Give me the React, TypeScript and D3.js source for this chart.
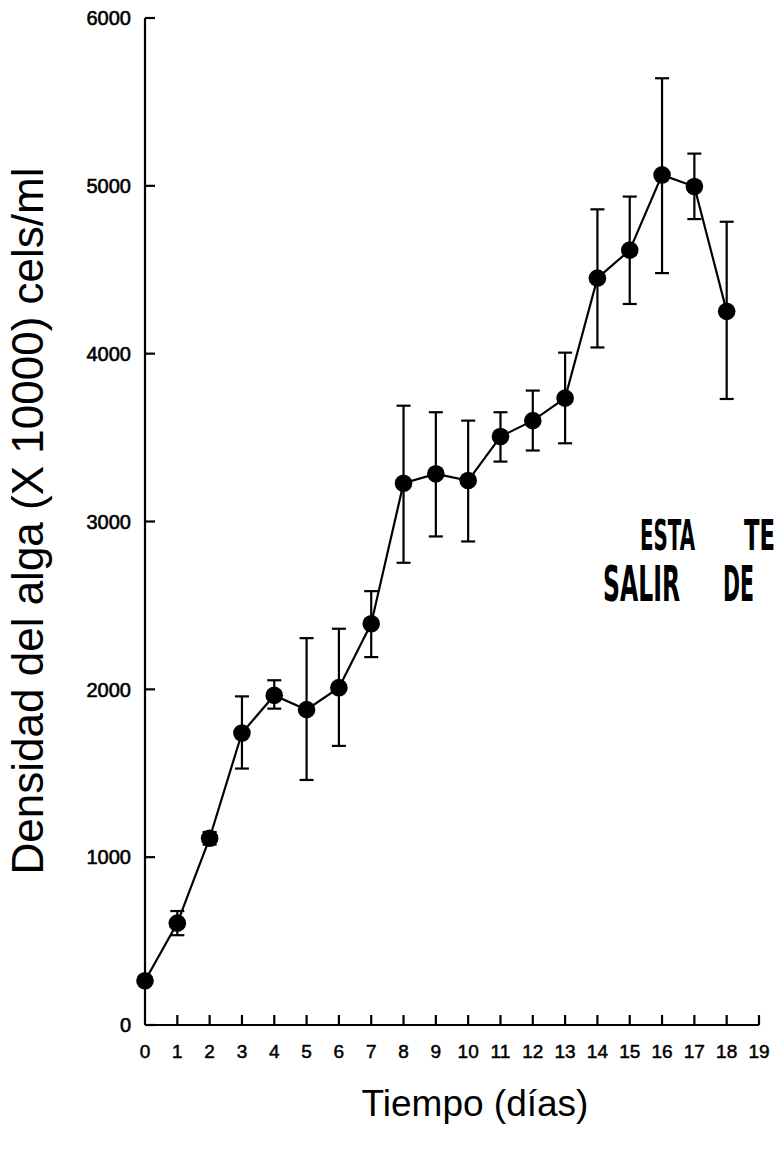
import React from "react";
import * as d3 from "d3";

const days = [0, 1, 2, 3, 4, 5, 6, 7, 8, 9, 10, 11, 12, 13, 14, 15, 16, 17, 18];
const density = [264, 607, 1113, 1740, 1964, 1879, 2010, 2391, 3228, 3284, 3244, 3506, 3601, 3735, 4450, 4617, 5065, 4996, 4252];
const errLow = [264, 535, 1075, 1528, 1885, 1460, 1663, 2192, 2754, 2911, 2881, 3357, 3423, 3466, 4037, 4296, 4480, 4802, 3730];
const errHigh = [264, 679, 1150, 1958, 2054, 2305, 2361, 2585, 3690, 3651, 3601, 3651, 3780, 4006, 4860, 4936, 5641, 5192, 4786];
const xTicks = [0, 1, 2, 3, 4, 5, 6, 7, 8, 9, 10, 11, 12, 13, 14, 15, 16, 17, 18, 19];
const yTicks = [0, 1000, 2000, 3000, 4000, 5000, 6000];
const xTitle = "Tiempo (días)";
const yTitle = "Densidad del alga (X 10000) cels/ml";
const stampLine1 = ["ESTA", "TE"];
const stampLine2 = ["SALIR", "DE"];

export default function App() {
  const W = 777;
  const H = 1152;
  const x = d3.scaleLinear().domain([0, 19]).range([145, 759]);
  const y = d3.scaleLinear().domain([0, 6000]).range([1025, 18]);
  const pts = days.map((d, i) => [x(d), y(density[i])] as [number, number]);
  const line = d3.line()(pts) || "";
  const font = "Arial, 'Liberation Sans', Helvetica, sans-serif";
  const stampFont = "'DejaVu Sans Condensed', 'Liberation Sans Narrow', sans-serif";
  const cap = 7;

  const stamp = (txt: string, tx: number, ty: number, len: number, sy: number) => (
    <text
      key={txt}
      transform={`translate(${tx},${ty}) scale(1,${sy})`}
      x={0}
      y={0}
      fontSize={22}
      textLength={len}
      lengthAdjust="spacingAndGlyphs"
    >
      {txt}
    </text>
  );

  return (
    <svg width={W} height={H} style={{ position: "absolute", left: 0, top: 0, background: "#fff" }}>
      <rect x={0} y={0} width={W} height={H} fill="#fff" />
      {/* axes */}
      <line x1={x(0)} y1={y(0)} x2={x(0)} y2={y(6000)} stroke="#000" strokeWidth={2.2} />
      <line x1={x(0)} y1={y(0)} x2={x(19)} y2={y(0)} stroke="#000" strokeWidth={2.2} />
      {yTicks.map((t) => (
        <g key={"yt" + t}>
          <line x1={x(0)} x2={x(0) + 10} y1={y(t)} y2={y(t)} stroke="#000" strokeWidth={2.2} />
          <text x={131} y={y(t)} dy="0.36em" textAnchor="end" fontFamily={font} fontSize={20} fill="#000" stroke="#000" strokeWidth={0.6}>
            {t}
          </text>
        </g>
      ))}
      {xTicks.map((t) => (
        <g key={"xt" + t}>
          {t > 0 && <line x1={x(t)} x2={x(t)} y1={y(0)} y2={y(0) - 10} stroke="#000" strokeWidth={2.2} />}
          <text x={x(t)} y={1058} textAnchor="middle" fontFamily={font} fontSize={19} fill="#000" stroke="#000" strokeWidth={0.5}>
            {t}
          </text>
        </g>
      ))}
      {/* titles */}
      <text x={475} y={1116} textAnchor="middle" fontFamily={font} fontSize={37} fill="#000">
        {xTitle}
      </text>
      <text
        transform={`translate(43, 521) rotate(-90)`}
        textAnchor="middle"
        fontFamily={font}
        fontSize={44}
        fill="#000"
      >
        {yTitle}
      </text>
      {/* error bars */}
      {days.map((d, i) =>
        errHigh[i] - errLow[i] > 0 ? (
          <g key={"e" + d} stroke="#000" strokeWidth={2.2}>
            <line x1={x(d)} x2={x(d)} y1={y(errLow[i])} y2={y(errHigh[i])} />
            <line x1={x(d) - cap} x2={x(d) + cap} y1={y(errLow[i])} y2={y(errLow[i])} />
            <line x1={x(d) - cap} x2={x(d) + cap} y1={y(errHigh[i])} y2={y(errHigh[i])} />
          </g>
        ) : null
      )}
      <path d={line} fill="none" stroke="#000" strokeWidth={2.2} />
      {pts.map((p, i) => (
        <circle key={"p" + i} cx={p[0]} cy={p[1]} r={8.8} fill="#000" />
      ))}
      {/* stamp text */}
      <g fontFamily={stampFont} fontWeight="bold" fill="#000">
        {stamp(stampLine1[0], 640, 550, 55, 1.95)}
        {stamp(stampLine1[1], 744, 550, 31, 1.95)}
        {stamp(stampLine2[0], 603, 601, 77, 2.25)}
        {stamp(stampLine2[1], 723, 601, 31, 2.25)}
      </g>
    </svg>
  );
}
